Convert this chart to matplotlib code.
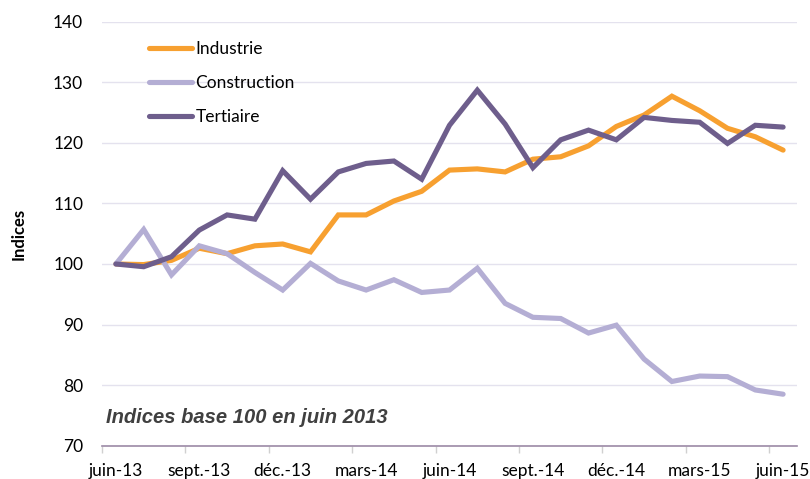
import matplotlib.pyplot as plt

# months juin-13 .. juin-15
months = ["juin-13", "juil.-13", "août-13", "sept.-13", "oct.-13", "nov.-13",
          "déc.-13", "janv.-14", "févr.-14", "mars-14", "avr.-14", "mai-14",
          "juin-14", "juil.-14", "août-14", "sept.-14", "oct.-14", "nov.-14",
          "déc.-14", "janv.-15", "févr.-15", "mars-15", "avr.-15", "mai-15",
          "juin-15"]

industrie = [100.0, 99.9, 100.6, 102.6, 101.7, 103.0, 103.3, 102.0, 108.1, 108.1,
             110.4, 112.0, 115.5, 115.7, 115.2, 117.3, 117.7, 119.5, 122.7, 124.6,
             127.7, 125.3, 122.4, 121.0, 118.8]
construction = [100.0, 105.7, 98.2, 103.0, 101.7, 98.6, 95.7, 100.1, 97.2, 95.7,
                97.4, 95.3, 95.7, 99.3, 93.5, 91.2, 91.0, 88.6, 89.9, 84.3,
                80.6, 81.5, 81.4, 79.2, 78.5]
tertiaire = [100.0, 99.55, 101.2, 105.6, 108.1, 107.4, 115.4, 110.7, 115.2, 116.6,
             117.0, 114.0, 122.9, 128.7, 123.1, 115.9, 120.5, 122.1, 120.5, 124.2,
             123.7, 123.4, 119.9, 122.9, 122.6]

series = ["Industrie", "Construction", "Tertiaire"]
colors = ["#F7A030", "#B4AED4", "#6E5E8C"]

plt.rcParams["font.family"] = ["Lato", "DejaVu Sans"]

fig = plt.figure(figsize=(8.10, 4.79), dpi=100)
ax = fig.add_axes([102 / 810, 1 - 445.7 / 479, 695 / 810, (445.7 - 21.7) / 479])

x = list(range(len(months)))
for vals, name, c in zip([industrie, construction, tertiaire], series, colors):
    ax.plot(x, vals, color=c, lw=3.7, label=name, solid_capstyle="round",
            solid_joinstyle="miter")

ax.set_xlim(-0.5, len(months) - 0.5)
ax.set_ylim(70, 140)
ax.set_yticks(range(70, 141, 10))
ax.grid(axis="y", color="#E4E2EE", lw=1)
ax.set_axisbelow(True)

ax.set_xticks(x[::3])
ax.set_xticklabels(months[::3], fontsize=12.5)
ax.set_xticks([i - 0.5 for i in range(0, len(months) + 1, 3)], minor=True)
ax.tick_params(axis="x", which="major", length=0, pad=12.5)
ax.tick_params(axis="x", which="minor", length=5, color="#D0D0D0", width=1)
ax.tick_params(axis="y", length=0, labelsize=12.5, pad=13.5)

for s in ["top", "right", "left"]:
    ax.spines[s].set_visible(False)
ax.spines["bottom"].set_color("#9C8AA6")
ax.spines["bottom"].set_linewidth(1.2)

ax.set_ylabel("Indices", fontsize=12, fontweight="bold", labelpad=19)

ax.text(0.006, 0.054, "Indices base 100 en juin 2013", transform=ax.transAxes,
        fontsize=14.5, fontweight="bold", fontstyle="italic", color="#404040",
        va="baseline", family=["Liberation Sans", "DejaVu Sans"])

leg = ax.legend(loc="upper left", bbox_to_anchor=(0.057, 0.971), frameon=False,
                fontsize=12.5, handlelength=2.5, handletextpad=0.2,
                labelspacing=1.03, borderaxespad=0)

fig.savefig("out.png", dpi=100)
